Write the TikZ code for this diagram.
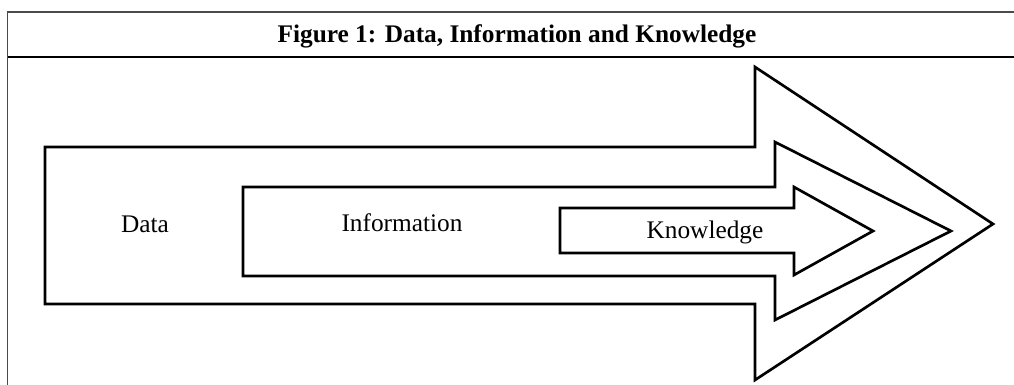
\documentclass[tikz,border=0pt]{standalone}
\usepackage{fontspec}
\setmainfont{Liberation Serif}
\usepackage{xcolor}
\definecolor{framegray}{HTML}{4A4A4A}

\begin{document}
\begin{tikzpicture}[x=0.75pt, y=-0.75pt, font=\fontsize{19}{23}\selectfont]
  \useasboundingbox (0,0) rectangle (1014,385);
  % table frame
  \draw[framegray, line width=0.8pt] (1014,12) -- (7.5,12) -- (7.5,385);
  \draw[black, line width=0.9pt] (7.5,57) -- (1014,57);
  \node[anchor=base, font=\fontsize{19}{23}\selectfont\bfseries] (title) at (517,43)
    {Figure 1: Data, Information and Knowledge};
  % nested arrows, outer first
  \foreach \xl/\ys/\yb/\xh/\yh/\yl/\xt/\yt in {45/147/304/755/67/380/993/224,
                                               243/187/276/775/142/320/951/231,
                                               560/208/253/794/187/275/873/231}{
    \draw[line width=2pt, fill=white]
      (\xl,\ys) -- (\xh,\ys) -- (\xh,\yh) -- (\xt,\yt) -- (\xh,\yl) -- (\xh,\yb) -- (\xl,\yb) -- cycle;
  }
  \node[anchor=base] (data) at (145,232) {Data};
  \node[anchor=base] (info) at (402,231) {Information};
  \node[anchor=base] (know) at (705,238) {Knowledge};
\end{tikzpicture}
\end{document}
